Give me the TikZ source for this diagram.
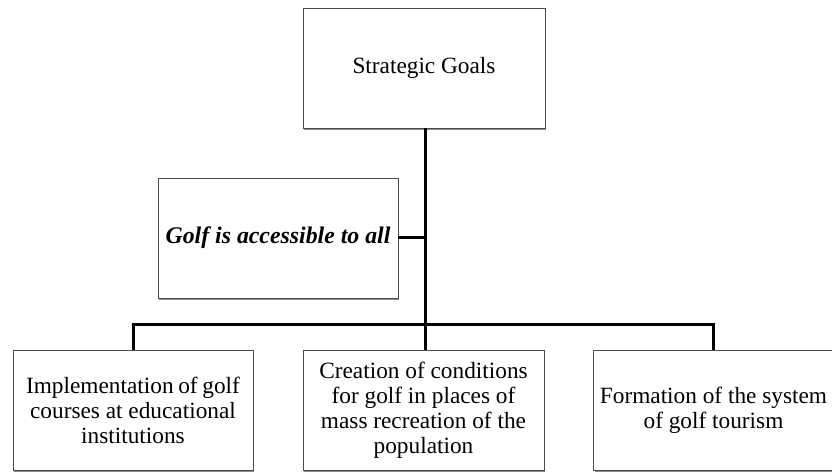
\documentclass[tikz,border=0pt]{standalone}
\usepackage{fontspec}
\setmainfont{Liberation Serif}
\usepackage{tikz}
\usetikzlibrary{calc, positioning, shadows}
\tikzset{goalbox/.style={draw=black!70, line width=0.8pt, fill=white, minimum width=240pt, minimum height=120pt, align=center, inner sep=2pt, font=\fontsize{23.3}{25}\selectfont, drop shadow={shadow xshift=1pt, shadow yshift=-2.5pt, fill=black, opacity=0.45}}}
\tikzset{link/.style={line width=3pt}}

\begin{document}
\begin{tikzpicture}[x=1pt, y=1pt]

  \useasboundingbox (0,0) rectangle (832,471);

  % top goal and main idea

  \node[goalbox, minimum width=242pt] (goals) at (424,403) {Strategic Goals};
  \node[goalbox, font=\fontsize{23.8}{25}\selectfont\bfseries\itshape] (access) at (278,233) {Golf is accessible to all};

  \coordinate (bus) at (425,146);

  % directions

  \node[goalbox] (impl) at (133,61) {\spaceskip=0.2em Implementation of golf\\courses at educational\\institutions};
  \node[goalbox, minimum width=241pt] (creat) at ($(impl)+(290.5,0)$) {Creation of conditions\\for golf in places of\\mass recreation of the\\population};
  \node[goalbox] (form) at ($(creat)+(290,0)$) {Formation of the system\\of golf tourism};

  % connectors

  \draw[link] (goals.south -| bus) -- (bus);
  \draw[link] (access.east) -- (access.east -| bus);
  \draw[link] (impl.north) |- (bus) -| (form.north);
  \draw[link] (bus) -- (bus |- creat.north);

\end{tikzpicture}
\end{document}
